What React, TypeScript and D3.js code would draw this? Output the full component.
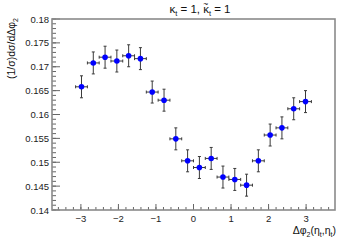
import React from "react";
import * as d3 from "d3";

const binCenters = [-2.984, -2.670, -2.356, -2.042, -1.728, -1.414, -1.100, -0.785, -0.471, -0.157,
  0.157, 0.471, 0.785, 1.100, 1.414, 1.728, 2.042, 2.356, 2.670, 2.984];
const values = [0.1658, 0.1708, 0.1720, 0.1712, 0.1723, 0.1717, 0.1647, 0.1630, 0.1549, 0.1503,
  0.1489, 0.1508, 0.1469, 0.1464, 0.1452, 0.1503, 0.1557, 0.1572, 0.1612, 0.1627];
const yErrors = [0.0023, 0.0023, 0.0023, 0.0023, 0.0023, 0.0023, 0.0023, 0.0023, 0.0023, 0.0023,
  0.0023, 0.0023, 0.0023, 0.0023, 0.0023, 0.0023, 0.0023, 0.0023, 0.0023, 0.0023];
const xHalfWidths = [0.157, 0.157, 0.157, 0.157, 0.157, 0.157, 0.157, 0.157, 0.157, 0.157,
  0.157, 0.157, 0.157, 0.157, 0.157, 0.157, 0.157, 0.157, 0.157, 0.157];
const yTicks = [0.14, 0.145, 0.15, 0.155, 0.16, 0.165, 0.17, 0.175, 0.18];
const yTickLabels = ["0.14", "0.145", "0.15", "0.155", "0.16", "0.165", "0.17", "0.175", "0.18"];
const xTicks = [-3, -2, -1, 0, 1, 2, 3];
const xTickLabels = ["\u22123", "\u22122", "\u22121", "0", "1", "2", "3"];

const W = 355, H = 240;
const L = 52, R = 335, T = 19, B = 210;
const font = "Liberation Sans, Arial, Helvetica, sans-serif";

export default function App() {
  const x = d3.scaleLinear().domain([-1.2 * Math.PI, 1.2 * Math.PI]).range([L, R]);
  const y = d3.scaleLinear().domain([0.14, 0.18]).range([B, T]);
  const yMinor = d3.range(0.14, 0.18001, 0.001);
  const xMinor = d3.range(-3.6, 3.601, 0.2);
  const axisColor = "#8a8a8a";
  const errColor = "#3a3a3a";
  return (
    <svg width={W} height={H} style={{ position: "fixed", left: 0, top: 0, background: "#fff" }}
      fontFamily={font}>
      <rect x={0} y={0} width={W} height={H} fill="#fff" />
      {yMinor.map((v, i) => (
        <line key={"ym" + i} x1={L} x2={L + 4} y1={y(v)} y2={y(v)} stroke="#666" strokeWidth={1} />
      ))}
      {yTicks.map((v, i) => (
        <g key={"yt" + i}>
          <line x1={L} x2={L + 8} y1={y(v)} y2={y(v)} stroke="#666" strokeWidth={1} />
          <text x={L - 3} y={y(v) + 3.5} fontSize={9.5} textAnchor="end" fill="#222">{yTickLabels[i]}</text>
        </g>
      ))}
      {xMinor.map((v, i) => (
        <line key={"xm" + i} x1={x(v)} x2={x(v)} y1={B} y2={B - 3} stroke="#666" strokeWidth={1} />
      ))}
      {xTicks.map((v, i) => (
        <g key={"xt" + i}>
          <line x1={x(v)} x2={x(v)} y1={B} y2={B - 6} stroke="#666" strokeWidth={1} />
          <text x={x(v)} y={B + 12} fontSize={9.5} textAnchor="middle" fill="#222">{xTickLabels[i]}</text>
        </g>
      ))}
      <rect x={L} y={T} width={R - L} height={B - T} fill="none" stroke={axisColor} strokeWidth={1.6} />
      {binCenters.map((c, i) => {
        const px = x(c), py = y(values[i]);
        const y1 = y(values[i] + yErrors[i]), y2 = y(values[i] - yErrors[i]);
        const x1 = x(c - xHalfWidths[i]), x2 = x(c + xHalfWidths[i]);
        return (
          <g key={"p" + i} stroke={errColor} strokeWidth={1}>
            <line x1={px} x2={px} y1={y1} y2={y2} />
            <line x1={x1} x2={x2} y1={py} y2={py} />
            <line x1={px - 1.5} x2={px + 1.5} y1={y1} y2={y1} />
            <line x1={px - 1.5} x2={px + 1.5} y1={y2} y2={y2} />
            <line x1={x1} x2={x1} y1={py - 1.5} y2={py + 1.5} />
            <line x1={x2} x2={x2} y1={py - 1.5} y2={py + 1.5} />
            <circle cx={px} cy={py} r={2.8} fill="#0000ff" stroke="none" />
          </g>
        );
      })}
      <text x={200} y={13} fontSize={11.5} textAnchor="middle" fill="#111">
        <tspan>κ</tspan><tspan fontSize={7.5} dy={3}>t</tspan>
        <tspan dy={-3}> = 1, κ</tspan>
        <tspan fontSize={8.5} dx={-5.6} dy={-6}>~</tspan>
        <tspan fontSize={7.5} dx={0.6} dy={9}>t</tspan>
        <tspan dy={-3}> = 1</tspan>
      </text>
      <text transform={`translate(15,${T - 1}) rotate(-90)`} fontSize={10.5} textAnchor="end" fill="#111">
        <tspan>(1/σ)dσ/dΔφ</tspan><tspan fontSize={7} dy={3}>2</tspan>
      </text>
      <text x={R + 1} y={234} fontSize={10.5} textAnchor="end" fill="#111">
        <tspan>Δφ</tspan><tspan fontSize={7} dy={3}>2</tspan>
        <tspan dy={-3}>(η</tspan><tspan fontSize={7} dy={3}>t</tspan>
        <tspan dy={-3}>,η</tspan><tspan fontSize={7} dy={3}>t</tspan>
        <tspan dy={-3}>)</tspan>
      </text>
    </svg>
  );
}
